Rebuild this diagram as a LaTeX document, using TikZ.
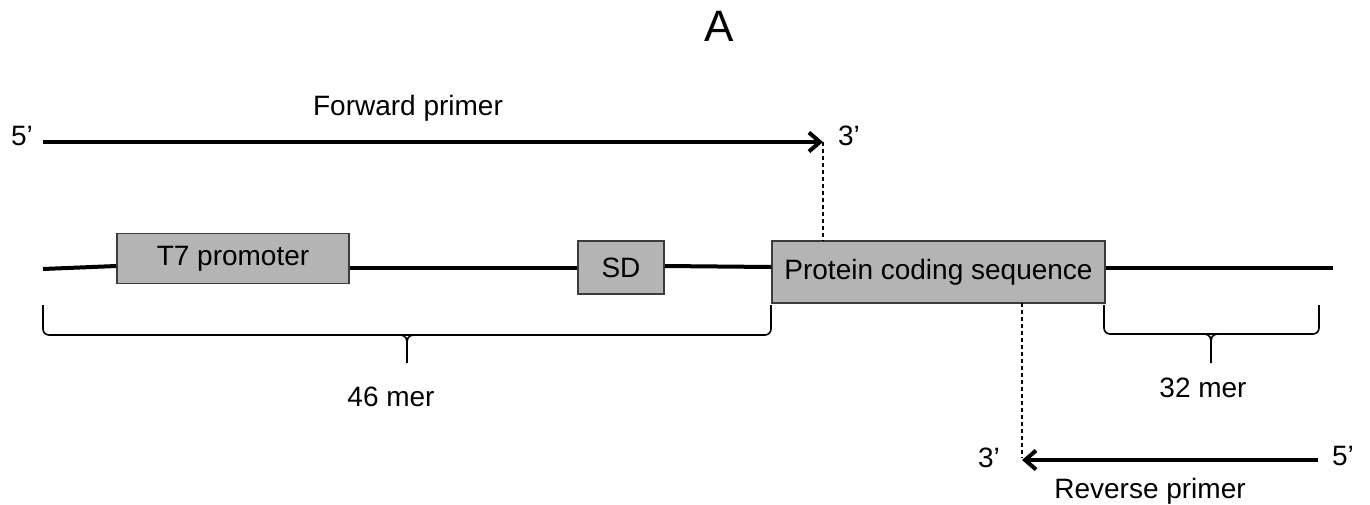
\documentclass[tikz,border=0pt]{standalone}
\usepackage{fontspec}
\setmainfont{Liberation Sans}
\usetikzlibrary{arrows.meta}
\definecolor{boxgray}{RGB}{180,180,180}
\definecolor{edgegray}{RGB}{60,60,60}
\begin{document}
\begin{tikzpicture}[x=1pt,y=-1pt,
  lbl/.style={inner sep=0pt,font=\fontsize{28}{32}\selectfont},
  gene/.style={draw=edgegray,line width=1.5pt,fill=boxgray,inner sep=0pt,font=\fontsize{28}{32}\selectfont},
  dna/.style={line width=4pt},
  primer/.style={line width=4pt,-{Straight Barb[length=11pt,width=19pt,line width=4pt]}},
  guide/.style={line width=1.3pt,dash pattern=on 4pt off 3pt},
  bracepath/.style={line width=1.6pt,rounded corners=6pt},
  bracetip/.style={line width=1.6pt}]
\useasboundingbox (0,0) rectangle (1370,504);
\node[lbl,font=\fontsize{44}{50}\selectfont] (title) at (719,26) {A};
% DNA line
\coordinate (dl) at (43,269);
\coordinate (dr) at (1333,268);
\node[gene,minimum width=232pt,minimum height=50pt] (t7) at (233,258.5) {T7 promoter};
\node[gene,minimum width=86pt,minimum height=53pt] (sd) at (621,267.5) {SD};
\node[gene,minimum width=333pt,minimum height=62pt] (pcs) at (938.5,272) {Protein coding sequence};
\draw[dna] (dl) -- (t7.west |- 0,266);
\draw[dna] (t7.east |- 0,268) -- (sd.west |- 0,268);
\draw[dna] (sd.east |- 0,266) -- (pcs.west |- 0,267);
\draw[dna] (pcs.east |- 0,268) -- (dr);
% forward primer
\coordinate (fs) at (43,142);
\coordinate (fe) at (823,142);
\draw[primer] (fs) -- (fe);
\node[lbl] (f5) at (22,136) {5’};
\node[lbl] (f3) at (849,136) {3’};
\node[lbl] (fwd) at (408,108) {Forward primer};
\draw[guide] (fe) -- (fe |- pcs.north);
% reverse primer
\coordinate (rs) at (1318,460);
\coordinate (re) at (1022,460);
\draw[primer] (rs) -- (re);
\node[lbl] (r3) at (989,458) {3’};
\node[lbl] (r5) at (1343,456) {5’};
\node[lbl] (rev) at (1150,491) {Reverse primer};
\coordinate (rtop) at (1022,303);
\draw[guide] (rtop) -- (1022,458);
% braces
\draw[bracepath] (43,305) -- (43,335) -- (407,335);
\draw[bracepath] (771,305) -- (771,335) -- (407,335);
\draw[bracetip] (401,335) .. controls (406,336) and (407,338) .. (407,345) -- (407,363);
\draw[bracetip] (413,335) .. controls (408,336) and (407,338) .. (407,345);
\node[lbl] (m46) at (391,397) {46 mer};
\draw[bracepath] (1104,305) -- (1104,334) -- (1211,334);
\draw[bracepath] (1319,305) -- (1319,334) -- (1211,334);
\draw[bracetip] (1205,334) .. controls (1210,335) and (1211,337) .. (1211,344) -- (1211,363);
\draw[bracetip] (1217,334) .. controls (1212,335) and (1211,337) .. (1211,344);
\node[lbl] (m32) at (1203,388) {32 mer};
\end{tikzpicture}
\end{document}
